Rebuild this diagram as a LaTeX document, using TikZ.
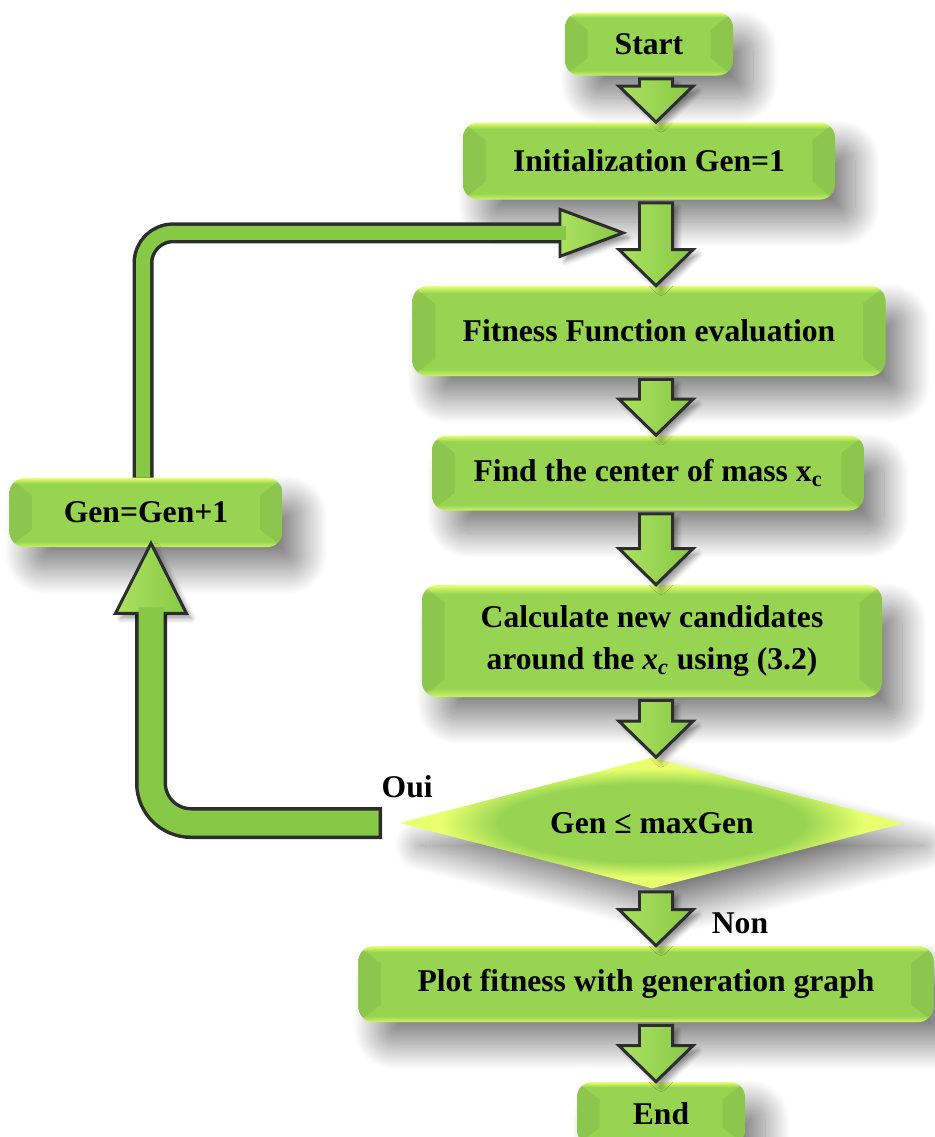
\documentclass[tikz,border=0pt]{standalone}
\usepackage{fontspec}
\setmainfont{Liberation Serif}
\usetikzlibrary{calc,shapes.geometric,shadows.blur}

\definecolor{boxgreen}{RGB}{150,212,82}
\definecolor{boxtop}{RGB}{232,255,110}
\definecolor{boxbot}{RGB}{205,242,98}
\definecolor{arrgreen}{RGB}{135,200,70}
\definecolor{arrlight}{RGB}{172,226,96}
\definecolor{arrline}{RGB}{45,45,45}

\pgfdeclareverticalshading{boxshade}{100bp}{color(0bp)=(boxbot); color(25bp)=(boxbot); color(29bp)=(boxgreen); color(71bp)=(boxgreen); color(75bp)=(boxtop); color(100bp)=(boxtop)}
\pgfdeclareradialshading{diashade}{\pgfpoint{0bp}{0bp}}{color(0bp)=(boxgreen); color(15bp)=(boxgreen); color(21bp)=(boxtop); color(50bp)=(boxtop)}

% block arrow from one box down to the next
\newcommand{\flowdown}[2]{%
  \draw[blockarr] let \p1=(axis |- #1.south), \p2=(axis |- #2.north) in
    ({\x1-0.33cm},{\y1-0.06cm}) -- ({\x1+0.33cm},{\y1-0.06cm})
    -- ({\x1+0.33cm},{\y2+0.72cm}) -- ({\x1+0.74cm},{\y2+0.72cm})
    -- (\x1,\y2) -- ({\x1-0.74cm},{\y2+0.72cm})
    -- ({\x1-0.33cm},{\y2+0.72cm}) -- cycle;}

\begin{document}
\begin{tikzpicture}
  [every node/.style={font=\fontsize{18}{24}\selectfont\bfseries},
   boxshadow/.style={blur shadow={shadow xshift=0.4cm, shadow yshift=-0.45cm, shadow blur radius=0.5cm,
     shadow blur steps=40, shadow opacity=50}},
   flowbox/.style={rectangle, rounded corners=0.3cm, shading=boxshade, align=center, inner sep=0pt, boxshadow,
     path picture={
       \fill[sharp corners, boxgreen!75!black, opacity=0.25] (path picture bounding box.north west) -- ++(0.45,-0.35)
         -- ($(path picture bounding box.south west)+(0.45,0.35)$) -- (path picture bounding box.south west) -- cycle;
       \fill[sharp corners, boxgreen!75!black, opacity=0.25] (path picture bounding box.north east) -- ++(-0.45,-0.35)
         -- ($(path picture bounding box.south east)+(-0.45,0.35)$) -- (path picture bounding box.south east) -- cycle;}},
   testbox/.style={diamond, aspect=3.9, shading=diashade, inner sep=0pt, minimum width=10.1cm, minimum height=2.62cm, boxshadow},
   blockarr/.style={draw=arrline, line width=1.7pt, line join=miter, left color=arrlight, right color=arrgreen,
     blur shadow={shadow xshift=0.1cm, shadow yshift=-0.1cm, shadow blur radius=0.1cm, shadow opacity=40}},
   loopout/.style={arrline, line width=#1},
   loopin/.style={arrgreen, line width=#1}]
  \useasboundingbox (0,0) rectangle (18.7,-22.74);
  \coordinate (axis) at (13.12,0);

  \node[flowbox, minimum width=3.36cm, minimum height=1.26cm] (start) at (12.98,-0.88) {Start};
  \node[flowbox, minimum width=7.44cm, minimum height=1.54cm] (init) at (12.98,-3.22) {Initialization Gen=1};
  \node[flowbox, minimum width=9.46cm, minimum height=1.8cm] (fit) at (12.98,-6.62) {Fitness Function evaluation};
  \node[flowbox, minimum width=8.64cm, minimum height=1.5cm] (mass) at (12.96,-9.46) {Find the center of mass x\textsubscript{c}};
  \node[flowbox, minimum width=9.2cm, minimum height=2.24cm] (calc) at (13.04,-12.82)
    {Calculate new candidates\\around the \textit{x}\textsubscript{\textit{c}} using (3.2)};
  \node[testbox] (test) at (13.04,-16.46) {Gen ≤ maxGen};
  \node[flowbox, minimum width=11.5cm, minimum height=1.52cm] (plot) at (12.92,-19.68) {Plot fitness with generation graph};
  \node[flowbox, minimum width=3.36cm, minimum height=1.26cm] (finish) at (13.22,-22.27) {End};
  \node[flowbox, minimum width=5.46cm, minimum height=1.38cm] (incr) at (2.92,-10.25) {Gen=Gen+1};

  \node (oui) at ($(test.west)+(0.16,0.72)$) {Oui};
  \node (non) at ($(test.south)+(1.76,-0.68)$) {Non};

  \foreach \from/\to in {start/init,init/fit,fit/mass,mass/calc,calc/test,test/plot,plot/finish}
    \flowdown{\from}{\to};

  % loop back: test -> incr
  \coordinate (lt) at ($(incr.south)+(0.1,0.08)$);
  \coordinate (lb) at ($(incr.south)+(0.1,-1.32)$);
  \draw[loopout=0.64cm, rounded corners=0.8cm] ($(test.west)+(-0.34,0)$) -| (lb);
  \draw[blockarr] ($(lb)+(-0.71,0)$) -- (lt) -- ($(lb)+(0.71,0)$) -- cycle;
  \draw[loopin=0.5cm, rounded corners=0.8cm] ($(test.west)+(-0.41,0)$) -| ($(lb)+(0,0.12)$);

  % incr -> back into the column
  \coordinate (ut) at ($(init.south)+(-0.52,-0.66)$);
  \coordinate (ub) at ($(ut)+(-1.26,0)$);
  \draw[loopout=0.42cm, rounded corners=0.6cm] ($(incr.north)+(-0.06,0)$) |- (ub);
  \draw[blockarr] ($(ub)+(0,0.47)$) -- (ut) -- ($(ub)+(0,-0.47)$) -- cycle;
  \draw[loopin=0.28cm, rounded corners=0.6cm] ($(incr.north)+(-0.06,0)$) |- ($(ub)+(0.12,0)$);
\end{tikzpicture}
\end{document}
